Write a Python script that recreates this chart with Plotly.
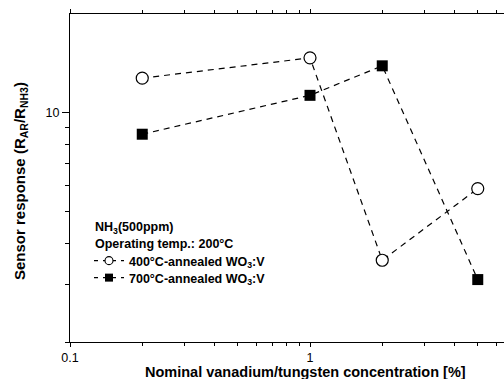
import plotly.graph_objects as go

# Nominal V/W concentration [%]
conc = [0.2, 1, 2, 5]
# Sensor response R_AR/R_NH3 for the two annealing temperatures
resp_400 = [12.75, 14.7, 3.55, 5.87]
resp_700 = [8.6, 11.3, 13.9, 3.1]

name_400 = "400°C-annealed WO<sub>3</sub>:V"
name_700 = "700°C-annealed WO<sub>3</sub>:V"
header = ["NH<sub>3</sub>(500ppm)", "Operating temp.: 200°C"]

W, H = 504, 379
ML, MR, MT, MB = 70, 0, 14, 37
PW, PH = W - ML - MR, H - MT - MB
FONT = "Arial, Liberation Sans, Helvetica, sans-serif"
DASH = "6px,5px"


def px_x(px):
    return (px - ML) / PW


def px_y(py):
    return (H - MB - py) / PH


fig = go.Figure()

# data series
fig.add_trace(go.Scatter(
    x=conc, y=resp_400, mode="lines+markers", showlegend=False,
    line=dict(color="black", width=1.2, dash=DASH),
    marker=dict(symbol="circle", size=12, color="white",
                line=dict(color="black", width=1.2)),
))
fig.add_trace(go.Scatter(
    x=conc, y=resp_700, mode="lines+markers", showlegend=False,
    line=dict(color="black", width=1.2, dash=DASH),
    marker=dict(symbol="square", size=11, color="black",
                line=dict(color="black", width=0)),
))

# legend keys (smaller symbols than the plotted markers)
fig.add_trace(go.Scatter(
    x=[None], y=[None], mode="lines+markers", name=name_400,
    legend="legend",
    line=dict(color="black", width=1.2, dash="4px,5px"),
    marker=dict(symbol="circle", size=8, color="white",
                line=dict(color="black", width=1.1)),
))
fig.add_trace(go.Scatter(
    x=[None], y=[None], mode="lines+markers", name=name_700,
    legend="legend2",
    line=dict(color="black", width=1.2, dash="4px,5px"),
    marker=dict(symbol="square", size=8, color="black",
                line=dict(color="black", width=0)),
))

leg_font = dict(family=FONT, size=12.5, color="black", weight="bold")
leg_common = dict(xanchor="left", yanchor="middle", bgcolor="rgba(0,0,0,0)",
                  borderwidth=0, itemwidth=30, font=leg_font)

fig.update_layout(
    width=W, height=H,
    margin=dict(l=ML, r=MR, t=MT, b=MB),
    paper_bgcolor="white", plot_bgcolor="white",
    font=dict(family=FONT, color="black", size=12),
    legend=dict(x=px_x(89), y=px_y(261), **leg_common),
    legend2=dict(x=px_x(89), y=px_y(278), **leg_common),
)

for txt, py in zip(header, [228, 243.5]):
    fig.add_annotation(
        text=txt, xref="paper", yref="paper",
        x=px_x(93), y=px_y(py), xanchor="left", yanchor="middle",
        showarrow=False, font=leg_font,
    )

fig.update_xaxes(
    type="log", range=[-1, 0.8083],
    showgrid=False, zeroline=False,
    showline=True, linecolor="black", linewidth=1.2,
    mirror="ticks",
    ticks="outside", ticklen=4, tickwidth=1, tickcolor="black",
    tickvals=[0.1, 1], ticktext=["0.1", "1"],
    tickfont=dict(family=FONT, size=12.5, color="black"),
    minor=dict(tickvals=[0.2, 0.3, 0.4, 0.5, 0.6, 0.7, 0.8, 0.9, 2, 3, 4, 5, 6],
               ticks="outside", ticklen=3, tickwidth=1, tickcolor="black",
               showgrid=False),
)
fig.update_yaxes(
    type="log", range=[0.30103, 1.30103],
    showgrid=False, zeroline=False,
    showline=True, linecolor="black", linewidth=1.2,
    mirror=False,
    ticks="outside", ticklen=7, tickwidth=1, tickcolor="black",
    tickvals=[10], ticktext=["10"],
    tickfont=dict(family=FONT, size=12.5, color="black"),
    minor=dict(tickvals=[2, 3, 4, 5, 6, 7, 8, 9],
               ticks="outside", ticklen=3.5, tickwidth=1, tickcolor="black",
               showgrid=False),
)

fig.add_annotation(
    text="Nominal vanadium/tungsten concentration [%]",
    xref="paper", yref="paper",
    x=px_x(305), y=px_y(372),
    xanchor="center", yanchor="middle", showarrow=False,
    font=dict(family=FONT, size=14.5, color="black", weight="bold"),
)
fig.add_annotation(
    text="Sensor response (R<sub>AR</sub>/R<sub>NH3</sub>)",
    xref="paper", yref="paper",
    x=px_x(20), y=px_y(181),
    xanchor="center", yanchor="middle", showarrow=False, textangle=-90,
    font=dict(family=FONT, size=15, color="black", weight="bold"),
)

fig.write_html("out.html")
